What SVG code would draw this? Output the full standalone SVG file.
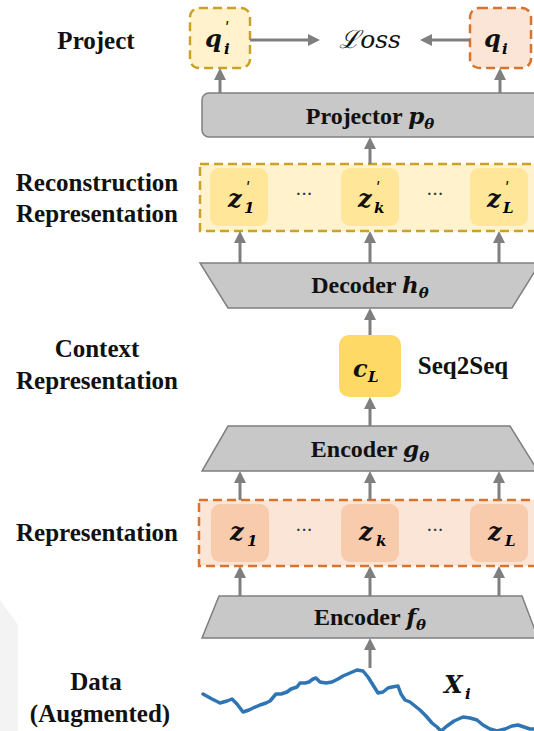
<svg xmlns="http://www.w3.org/2000/svg" width="534" height="731" viewBox="0 0 534 731">
<style>
.lbl{font-family:"Liberation Serif","DejaVu Serif Condensed",serif;font-weight:bold;font-size:25px;fill:#111;text-anchor:middle}
.btxt{font-family:"Liberation Serif","DejaVu Serif Condensed",serif;font-weight:bold;font-size:24px;fill:#111;text-anchor:middle}
.m{font-family:"DejaVu Serif","Liberation Serif",serif;font-style:italic;font-weight:bold;font-size:24px;fill:#111}
.mi{font-family:"DejaVu Serif","Liberation Serif",serif;font-style:italic;font-weight:bold}
.sub{font-family:"DejaVu Serif","Liberation Serif",serif;font-style:italic;font-weight:bold;font-size:15px}
.pr{font-family:"DejaVu Sans",sans-serif;font-size:16px;fill:#111}
.gray{fill:#C8C8C8;stroke:#7F7F7F;stroke-width:1.5}
.conn line{stroke:#7F7F7F;stroke-width:3;marker-end:url(#ah)}
.ydash{fill:#FFF2CC;stroke:#C9A227;stroke-width:2.5;stroke-dasharray:9 5}
.odash{fill:#FBE5D6;stroke:#D9732E;stroke-width:2.5;stroke-dasharray:9 5}
.yin{fill:#FFE699}
.oin{fill:#F8CBAD}
.dots{font-family:"DejaVu Serif",serif;font-size:18px;fill:#333;text-anchor:middle}
</style>
<defs>
<marker id="ah" viewBox="0 0 12 12" refX="1" refY="6" markerWidth="12" markerHeight="12" markerUnits="userSpaceOnUse" orient="auto">
<path d="M0,0 L12,6 L0,12 z" fill="#7F7F7F"/>
</marker>
</defs>
<rect width="534" height="731" fill="#FFFFFF"/>
<polygon points="0,600 18,625 18,731 0,731" fill="#F3F3F3"/>

<g id="labels">
<text class="lbl" x="96" y="49">Project</text>
<text class="lbl" x="97" y="191">Reconstruction</text>
<text class="lbl" x="97" y="222">Representation</text>
<text class="lbl" x="97" y="357">Context</text>
<text class="lbl" x="97" y="389">Representation</text>
<text class="lbl" x="97" y="541">Representation</text>
<text class="lbl" x="96" y="690">Data</text>
<text class="lbl" x="100" y="722">(Augmented)</text>
<text class="lbl" x="463" y="374">Seq2Seq</text>
</g>

<g id="qprime">
<rect class="ydash" x="190" y="8" width="60" height="60" rx="9"/>
<text class="m" x="205" y="47">q</text>
<text class="pr" x="225" y="34">ʹ</text>
<text class="sub" x="224" y="54">i</text>
</g>

<g id="loss">
<text x="370" y="48" text-anchor="middle" font-family="DejaVu Serif, Liberation Serif, serif" font-style="italic" font-size="25" fill="#111">ℒoss</text>
</g>

<g id="q">
<rect class="odash" x="470" y="8" width="61" height="60" rx="9"/>
<text class="m" x="484" y="47">q</text>
<text class="sub" x="502" y="54">i</text>
</g>

<g id="projector">
<rect class="gray" x="202" y="93" width="345" height="44" rx="7"/>
<text class="btxt" x="370" y="124">Projector <tspan class="mi" font-size="23">p</tspan><tspan class="sub" dy="5">θ</tspan></text>
</g>

<g id="recon">
<rect class="ydash" x="200" y="164" width="345" height="67"/>
<rect class="yin" x="210" y="168" width="58" height="58" rx="9"/>
<rect class="yin" x="341" y="168" width="58" height="58" rx="9"/>
<rect class="yin" x="470" y="168" width="58" height="58" rx="9"/>
<text class="m" x="228" y="207">z</text><text class="pr" x="246" y="194">ʹ</text><text class="sub" x="244" y="213">1</text>
<text class="m" x="358" y="207">z</text><text class="pr" x="376" y="194">ʹ</text><text class="sub" x="374" y="213">k</text>
<text class="m" x="487" y="207">z</text><text class="pr" x="505" y="194">ʹ</text><text class="sub" x="503" y="213">L</text>
<text class="dots" x="304" y="200">···</text>
<text class="dots" x="435" y="200">···</text>
</g>

<g id="decoder">
<polygon class="gray" points="200,263 540,263 512,308 228,308"/>
<text class="btxt" x="370" y="293">Decoder <tspan class="mi" font-size="23">h</tspan><tspan class="sub" dy="5">θ</tspan></text>
</g>

<g id="cL">
<rect x="339" y="335" width="62" height="62" rx="10" fill="#FFD966"/>
<text class="m" x="353" y="377">c</text>
<text class="sub" x="368" y="382">L</text>
</g>

<g id="encoderg">
<polygon class="gray" points="228,426 510,426 538,471 202,471"/>
<text class="btxt" x="370" y="457">Encoder <tspan class="mi" font-size="23">g</tspan><tspan class="sub" dy="5">θ</tspan></text>
</g>

<g id="rep">
<rect class="odash" x="199" y="500" width="346" height="66"/>
<rect class="oin" x="211" y="504" width="58" height="58" rx="9"/>
<rect class="oin" x="341" y="504" width="58" height="58" rx="9"/>
<rect class="oin" x="470" y="504" width="58" height="58" rx="9"/>
<text class="m" x="230" y="540">z</text><text class="sub" x="247" y="546">1</text>
<text class="m" x="359" y="540">z</text><text class="sub" x="376" y="546">k</text>
<text class="m" x="488" y="540">z</text><text class="sub" x="505" y="546">L</text>
<text class="dots" x="304" y="536">···</text>
<text class="dots" x="435" y="536">···</text>
</g>

<g id="encoderf">
<polygon class="gray" points="219,596 522,596 538,638 202,638"/>
<text class="btxt" x="370" y="625">Encoder <tspan class="mi" font-size="23">f</tspan><tspan class="sub" dy="5">θ</tspan></text>
</g>

<g id="data">
<polyline fill="none" stroke="#2E75B6" stroke-width="3.5" stroke-linejoin="round" stroke-linecap="round" points="203,694 212,699 220,703 227,701 232,699 237,704 243,712 249,710 253,708 260,705 266,703 270,701 276,694 281,694 287,692 291,689 297,687 300,683 305,683 309,682 313,679 316,678 320,682 326,683 332,682 338,679 343,676 350,673 357,670 363,671 368,677 373,685 378,693 383,692 388,688 392,687 398,686 401,694 405,700 410,702 415,706 420,710 426,716 432,723 437,727 441,731 447,726 454,721 463,717 470,718 477,720 483,725 490,729 497,731 505,729 512,726 518,725 524,727 530,729 536,729"/>
<text class="m" x="444" y="693">X</text>
<text class="sub" x="465" y="699">i</text>
</g>

<g id="connectors" class="conn">
<line x1="220" y1="93" x2="220" y2="79"/>
<line x1="500" y1="93" x2="500" y2="79"/>
<line x1="250" y1="40" x2="309" y2="40"/>
<line x1="470" y1="40" x2="431" y2="40"/>
<line x1="370" y1="164" x2="370" y2="148"/>
<line x1="240" y1="263" x2="240" y2="242"/>
<line x1="370" y1="263" x2="370" y2="242"/>
<line x1="499" y1="263" x2="499" y2="242"/>
<line x1="370" y1="335" x2="370" y2="319"/>
<line x1="370" y1="426" x2="370" y2="408"/>
<line x1="240" y1="500" x2="240" y2="482"/>
<line x1="370" y1="500" x2="370" y2="482"/>
<line x1="499" y1="500" x2="499" y2="482"/>
<line x1="240" y1="596" x2="240" y2="577"/>
<line x1="370" y1="596" x2="370" y2="577"/>
<line x1="499" y1="596" x2="499" y2="577"/>
<line x1="370" y1="668" x2="370" y2="649"/>
</g>
</svg>
